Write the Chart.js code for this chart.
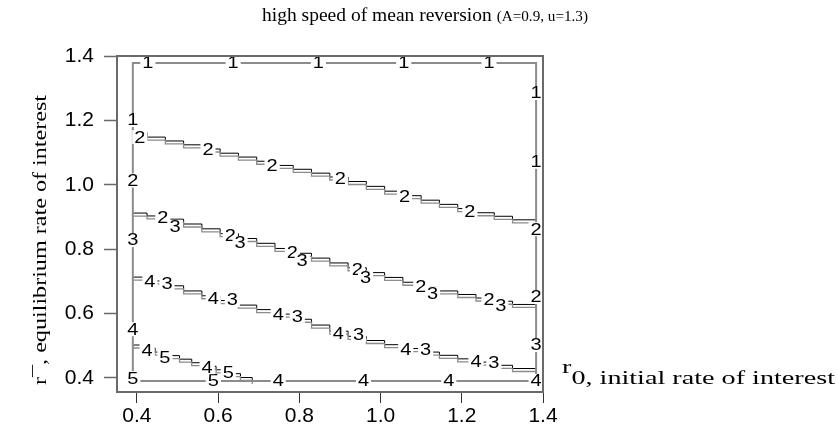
<!DOCTYPE html>
<html><head><meta charset="utf-8">
<script src="https://cdn.jsdelivr.net/npm/chart.js@4/dist/chart.umd.min.js"></script>
<style>html,body{margin:0;padding:0;background:#fff;}#wrap{width:837px;height:439px;}</style>
</head><body><div id="wrap"><canvas id="c" width="837" height="439"></canvas></div>
<script>
// ---- data ----
const xTicks = [0.4, 0.6, 0.8, 1.0, 1.2, 1.4];
const yTicks = [0.4, 0.6, 0.8, 1.0, 1.2, 1.4];

// outer contour of the computed region
const borderX = [0.39, 0.39, 1.383, 1.383, 0.39];
const borderY = [0.39, 1.378, 1.378, 0.39, 0.39];

// region boundaries (step corners)
const b12x = [0.390,0.425,0.470,0.515,0.560,0.605,0.650,0.695,0.740,0.785,0.830,0.875,0.920,0.965,1.010,1.055,1.100,1.145,1.190,1.235,1.280,1.325,1.383];
const b12y = [1.162,1.148,1.136,1.124,1.111,1.098,1.086,1.073,1.060,1.048,1.036,1.024,1.010,0.995,0.980,0.966,0.952,0.939,0.926,0.913,0.902,0.891,0.881];

const b23x = [0.390,0.425,0.470,0.515,0.560,0.605,0.650,0.695,0.740,0.785,0.830,0.875,0.920,0.965,1.010,1.055,1.100,1.145,1.190,1.235,1.280,1.325,1.383];
const b23y = [0.912,0.903,0.893,0.878,0.863,0.848,0.833,0.818,0.802,0.787,0.772,0.757,0.742,0.727,0.712,0.697,0.682,0.670,0.659,0.648,0.638,0.628,0.617];

const b34x = [0.390,0.425,0.470,0.515,0.560,0.605,0.650,0.695,0.740,0.785,0.830,0.875,0.920,0.965,1.010,1.055,1.100,1.145,1.190,1.235,1.280,1.325,1.383];
const b34y = [0.713,0.701,0.686,0.670,0.655,0.640,0.626,0.612,0.598,0.582,0.564,0.545,0.529,0.516,0.503,0.491,0.480,0.470,0.459,0.449,0.439,0.429,0.418];

const b45x = [0.390,0.415,0.445,0.475,0.505,0.535,0.565,0.595,0.625,0.655,0.684];
const b45y = [0.502,0.492,0.480,0.469,0.458,0.447,0.436,0.425,0.413,0.401,0.390];

// contour labels [x, y, text]
const borderLabels = [
  [0.427,1.378,'1'],[0.637,1.378,'1'],[0.847,1.378,'1'],[1.057,1.378,'1'],[1.267,1.378,'1'],
  [1.383,1.285,'1'],[1.383,1.071,'1'],[1.383,0.862,'2'],[1.383,0.651,'2'],[1.383,0.502,'3'],[1.383,0.390,'4'],
  [0.39,1.201,'1'],[0.39,1.013,'2'],[0.39,0.828,'3'],[0.39,0.551,'4'],[0.39,0.399,'5'],
  [0.588,0.390,'5'],[0.748,0.390,'4'],[0.958,0.390,'4'],[1.168,0.390,'4']
];
const labels12 = [[0.407,1.148,'2'],[0.575,1.108,'2'],[0.733,1.061,'2'],[0.901,1.018,'2'],[1.059,0.962,'2'],[1.220,0.918,'2']];
const labels23a = [[0.464,0.897,'2'],[0.630,0.841,'2'],[0.783,0.788,'2'],[0.943,0.735,'2'],[1.099,0.682,'2'],[1.267,0.642,'2']];
const labels23b = [[0.494,0.869,'3'],[0.654,0.819,'3'],[0.807,0.763,'3'],[0.963,0.710,'3'],[1.128,0.663,'3'],[1.296,0.626,'3']];
const labels34a = [[0.432,0.698,'4'],[0.588,0.645,'4'],[0.748,0.595,'4'],[0.896,0.536,'4'],[1.062,0.489,'4'],[1.235,0.449,'4']];
const labels34b = [[0.474,0.694,'3'],[0.635,0.642,'3'],[0.795,0.589,'3'],[0.946,0.533,'3'],[1.111,0.487,'3'],[1.279,0.446,'3']];
const labels45a = [[0.425,0.486,'4'],[0.573,0.433,'4']];
const labels45b = [[0.469,0.464,'5'],[0.625,0.415,'5']];

const titleMain = 'high speed of mean reversion ';
const titleSub = '(A=0.9, u=1.3)';
const yTitle = 'r\u00AF, equilibrium rate of interest';
const xTitleA = 'r';
const xTitleB = '0, initial rate of interest';

// ---- chart ----
const pts = (xs, ys) => xs.map((x, i) => ({x: x, y: ys[i]}));
const GRAY = '#8c8c8c';
const SERIF = '"Liberation Serif", "Times New Roman", serif';
const SANS = '"Liberation Sans", Arial, sans-serif';
const lineDs = (xs, ys, color, w, shift) => ({
  data: pts(xs, ys), showLine: true, stepped: 'before', borderColor: color, borderWidth: w,
  pointRadius: 0, fill: false, shiftY: shift, clip: false
});

const datasets = [
  {data: pts(borderX, borderY), showLine: true, borderColor: GRAY, borderWidth: 2, pointRadius: 0, fill: false, clip: false},
  lineDs(b12x, b12y, GRAY, 1.3, 3), lineDs(b12x, b12y, '#000', 1, 0),
  lineDs(b23x, b23y, GRAY, 1.3, 3), lineDs(b23x, b23y, '#000', 1, 0),
  lineDs(b34x, b34y, GRAY, 1.3, 3), lineDs(b34x, b34y, '#000', 1, 0),
  lineDs(b45x, b45y, GRAY, 1.3, 3), lineDs(b45x, b45y, '#000', 1, 0)
];

const shiftPlugin = {
  id: 'shift',
  beforeDatasetDraw(chart, args) {
    const ds = chart.data.datasets[args.index];
    chart.ctx.save();
    if (ds.shiftY) chart.ctx.translate(0, ds.shiftY);
  },
  afterDatasetDraw(chart) { chart.ctx.restore(); }
};

const boxPlugin = {
  id: 'box',
  afterDraw(chart) {
    const a = chart.chartArea, ctx = chart.ctx;
    ctx.save();
    ctx.strokeStyle = '#6a6a6a'; ctx.lineWidth = 2;
    ctx.strokeRect(a.left, a.top, a.right - a.left, a.bottom - a.top);
    ctx.restore();
  }
};

const labelPlugin = {
  id: 'clabels',
  afterDatasetsDraw(chart) {
    const ctx = chart.ctx, xs = chart.scales.x, ys = chart.scales.y;
    const sx = 1.25;
    ctx.save();
    ctx.font = '16px ' + SANS;
    ctx.textAlign = 'center'; ctx.textBaseline = 'middle';
    const all = [].concat(borderLabels, labels12, labels23a, labels23b, labels34a, labels34b, labels45a, labels45b);
    all.forEach(l => {
      const px = xs.getPixelForValue(l[0]), py = ys.getPixelForValue(l[1]);
      const w = ctx.measureText(l[2]).width * sx;
      ctx.fillStyle = '#fff';
      ctx.fillRect(px - w / 2 - 2, py - 7, w + 4, 14);
      ctx.save();
      ctx.translate(px, py + 1);
      ctx.scale(sx, 1);
      ctx.fillStyle = '#000';
      ctx.fillText(l[2], 0, 0);
      ctx.restore();
    });
    ctx.restore();
  }
};

function fitText(ctx, parts, x0, span) {
  let total = 0;
  parts.forEach(p => { ctx.font = p[1]; total += ctx.measureText(p[0]).width; });
  const s = span / total;
  let x = 0;
  ctx.save();
  ctx.translate(x0, 0);
  ctx.scale(s, 1);
  parts.forEach(p => { ctx.font = p[1]; ctx.fillText(p[0], x, p[2]); x += ctx.measureText(p[0]).width; });
  ctx.restore();
}

const textPlugin = {
  id: 'texts',
  afterDraw(chart) {
    const ctx = chart.ctx, a = chart.chartArea;
    ctx.save();
    ctx.fillStyle = '#000';
    ctx.textBaseline = 'alphabetic'; ctx.textAlign = 'left';
    // main title
    fitText(ctx, [[titleMain, '18px ' + SERIF, 21], [titleSub, '14px ' + SERIF, 21]], 262, 326);
    // y title (rotated)
    ctx.save();
    ctx.translate(46, 385);
    ctx.rotate(-Math.PI / 2);
    fitText(ctx, [[yTitle, '19px ' + SERIF, 0]], 0, 290);
    ctx.restore();
    // x title
    fitText(ctx, [[xTitleA, '19px ' + SERIF, 373], [xTitleB, '19px ' + SERIF, 384]], a.right + 19, 273);
    ctx.restore();
  }
};

new Chart(document.getElementById('c'), {
  type: 'scatter',
  data: {datasets: datasets},
  options: {
    responsive: false, animation: false, devicePixelRatio: 1,
    layout: {padding: {left: 0, right: 294, top: 56, bottom: 0}},
    plugins: {legend: {display: false}, tooltip: {enabled: false}, title: {display: false}},
    scales: {
      x: {
        type: 'linear', min: 0.351, max: 1.4,
        afterFit(s) { s.height = 47; },
        afterBuildTicks(s) { s.ticks = xTicks.map(v => ({value: v})); },
        grid: {drawOnChartArea: false, drawTicks: true, tickLength: 11, tickColor: '#333', tickWidth: 1},
        border: {display: false},
        ticks: {autoSkip: false, maxRotation: 0, padding: 1, color: '#000',
          font: {family: SANS, size: 21},
          callback: v => Number(v).toFixed(1)}
      },
      y: {
        type: 'linear', min: 0.356, max: 1.4,
        afterFit(s) { s.width = 117; },
        afterBuildTicks(s) { s.ticks = yTicks.map(v => ({value: v})); },
        grid: {drawOnChartArea: false, drawTicks: true, tickLength: 13, tickColor: '#6a6a6a', tickWidth: 1.5},
        border: {display: false},
        ticks: {autoSkip: false, padding: 10, color: '#000',
          font: {family: SANS, size: 21},
          callback: v => Number(v).toFixed(1)}
      }
    }
  },
  plugins: [shiftPlugin, boxPlugin, labelPlugin, textPlugin]
});
</script>
</body></html>
